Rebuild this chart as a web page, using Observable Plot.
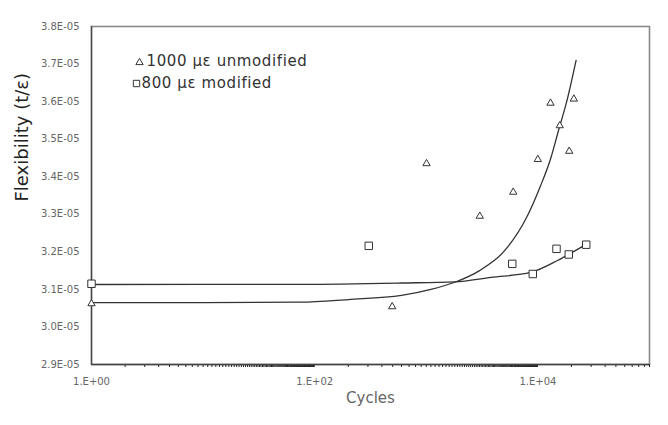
<!DOCTYPE html>
<html>
<head>
<meta charset="utf-8">
<script src="https://cdn.jsdelivr.net/npm/d3@7"></script>
<script src="https://cdn.jsdelivr.net/npm/@observablehq/plot@0.6"></script>
<style>
  html, body { margin: 0; padding: 0; background: #fff; }
  #chart { width: 668px; height: 425px; }
  .legend-text text { letter-spacing: 0.6px; }
</style>
</head>
<body>
<div id="chart"></div>
<script>
// ---- Data ----
const seriesNames = ["1000 με unmodified", "800 με modified"];

// 1000 με unmodified (triangles)
const triCycles = [1, 495, 1005, 3015, 6010, 9980, 12970, 15710, 19080, 20990];
const triFlex   = [3.062e-5, 3.054e-5, 3.435e-5, 3.295e-5, 3.359e-5, 3.446e-5, 3.596e-5, 3.536e-5, 3.468e-5, 3.607e-5];

// 800 με modified (squares)
const sqCycles = [1, 305, 5890, 9000, 14680, 18910, 27100];
const sqFlex   = [3.115e-5, 3.216e-5, 3.168e-5, 3.141e-5, 3.208e-5, 3.193e-5, 3.219e-5];

// Trendlines
const triTrendCycles = [1, 10, 75, 200, 600, 1100, 1800, 3000, 5300, 8000, 10500, 13000, 15300, 18400, 22000];
const triTrendFlex   = [3.065e-5, 3.065e-5, 3.066e-5, 3.073e-5, 3.084e-5, 3.100e-5, 3.119e-5, 3.150e-5, 3.211e-5, 3.294e-5, 3.374e-5, 3.448e-5, 3.523e-5, 3.608e-5, 3.710e-5];
const sqTrendCycles = [1, 75, 600, 1800, 3800, 8600, 15000, 18800, 27800];
const sqTrendFlex   = [3.113e-5, 3.1135e-5, 3.117e-5, 3.120e-5, 3.132e-5, 3.145e-5, 3.177e-5, 3.193e-5, 3.222e-5];

// Axis ticks and labels
const yTicks = [2.9e-5, 3.0e-5, 3.1e-5, 3.2e-5, 3.3e-5, 3.4e-5, 3.5e-5, 3.6e-5, 3.7e-5, 3.8e-5];
const yTickLabels = ["2.9E-05", "3.0E-05", "3.1E-05", "3.2E-05", "3.3E-05", "3.4E-05", "3.5E-05", "3.6E-05", "3.7E-05", "3.8E-05"];
const xTicks = [1, 100, 10000];
const xTickLabels = ["1.E+00", "1.E+02", "1.E+04"];
const xMinorBases = [1, 100, 10000];
const xTitle = "Cycles";
const yTitle = "Flexibility (t/ε)";

// ---- Build tables ----
const tri = triCycles.map((c, i) => ({cycles: c, flex: triFlex[i]}));
const sq = sqCycles.map((c, i) => ({cycles: c, flex: sqFlex[i]}));
const triTrend = triTrendCycles.map((c, i) => ({cycles: c, flex: triTrendFlex[i]}));
const sqTrend = sqTrendCycles.map((c, i) => ({cycles: c, flex: sqTrendFlex[i]}));
const yLabelMap = new Map(yTicks.map((t, i) => [t, yTickLabels[i]]));
const xLabelMap = new Map(xTicks.map((t, i) => [t, xTickLabels[i]]));
// Excel-style minor ticks: base * k for k = 2..99 (within domain)
const xMinor = [];
for (const b of xMinorBases) for (let k = 2; k < 100; k++) { const v = b * k; if (v <= 1e5) xMinor.push(v); }

const font = "DejaVu Sans, Verdana, sans-serif";

const chart = Plot.plot({
  width: 668,
  height: 425,
  marginLeft: 91,
  marginRight: 19,
  marginTop: 26,
  marginBottom: 61,
  style: {fontFamily: font, fontSize: "10px", color: "#666", background: "#fff"},
  x: {type: "log", domain: [1, 1e5]},
  y: {type: "linear", domain: [2.9e-5, 3.8e-5]},
  marks: [
    Plot.frame({stroke: "#8a8a8a", strokeWidth: 1.6}),
    Plot.axisY({ticks: yTicks, tickFormat: d => yLabelMap.get(d), tickSize: 0, tickPadding: 12, label: null, fill: "#666"}),
    Plot.axisX({ticks: xMinor, tickFormat: () => "", tickSize: 3, stroke: "#222", label: null}),
    Plot.axisX({ticks: xTicks, tickFormat: d => xLabelMap.get(d), tickSize: 0, tickPadding: 13, label: null, fill: "#666"}),
    Plot.ruleX([1], {stroke: "#444", strokeWidth: 1.3}),
    Plot.ruleY([2.9e-5], {stroke: "#444", strokeWidth: 1.3}),
    Plot.line(triTrend, {x: "cycles", y: "flex", curve: "monotone-x", stroke: "#333", strokeWidth: 1.3}),
    Plot.line(sqTrend, {x: "cycles", y: "flex", curve: "monotone-x", stroke: "#333", strokeWidth: 1.3}),
    Plot.dot(tri, {x: "cycles", y: "flex", symbol: "triangle", r: 2.7, stroke: "#333", fill: "white", strokeWidth: 1}),
    Plot.dot(sq, {x: "cycles", y: "flex", symbol: "square", r: 4.2, stroke: "#333", fill: "white", strokeWidth: 1}),
    // Legend
    Plot.dot([seriesNames[0]], {frameAnchor: "top-left", dx: 48, dy: 36, symbol: "triangle", r: 2.7, stroke: "#333", fill: "white", strokeWidth: 1}),
    Plot.dot([seriesNames[1]], {frameAnchor: "top-left", dx: 45, dy: 57, symbol: "square", r: 3.6, stroke: "#333", fill: "white", strokeWidth: 1}),
    Plot.text([seriesNames[0]], {text: d => d, frameAnchor: "top-left", dx: 55, dy: 35, textAnchor: "start", lineAnchor: "middle", fontSize: 15, fill: "#333", fontFamily: font, className: "legend-text"}),
    Plot.text([seriesNames[1]], {text: d => d, frameAnchor: "top-left", dx: 50, dy: 57, textAnchor: "start", lineAnchor: "middle", fontSize: 15, fill: "#333", fontFamily: font, className: "legend-text"}),
    // Axis titles
    Plot.text([xTitle], {text: d => d, frameAnchor: "bottom", dy: 34, lineAnchor: "middle", fontSize: 15, fill: "#666", fontFamily: font}),
    Plot.text([yTitle], {text: d => d, frameAnchor: "left", dx: -69, dy: 6, rotate: -90, lineAnchor: "middle", fontSize: 18, fill: "#222", fontFamily: font})
  ]
});
document.getElementById("chart").appendChild(chart);
</script>
</body>
</html>
